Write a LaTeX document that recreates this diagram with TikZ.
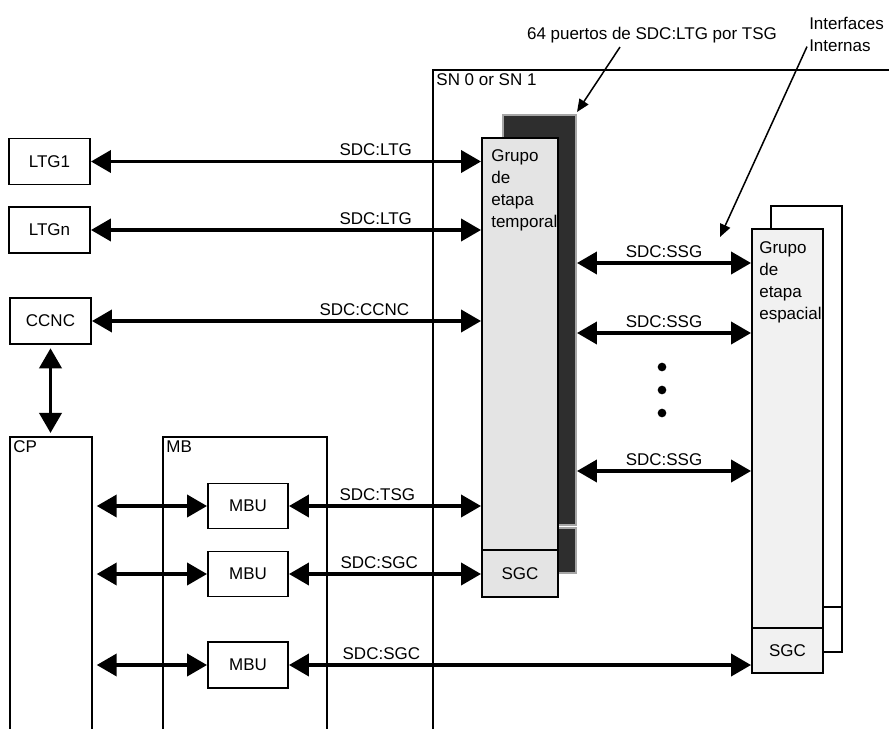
\documentclass[tikz,border=0pt]{standalone}
\usepackage{fontspec}
\setmainfont{Liberation Sans}
\usetikzlibrary{arrows.meta}
\definecolor{grisTSG}{HTML}{E4E4E4}
\definecolor{grisSSG}{HTML}{F1F1F1}
\definecolor{grisBarra}{HTML}{2E2E2E}

\begin{document}
\begin{tikzpicture}[x=0.3mm, y=-0.3mm,
  every node/.style={font=\fontsize{14.5}{19}\selectfont},
  caja/.style={draw,line width=1.6pt,inner sep=0pt,minimum width=24.3mm,minimum height=13.8mm},
  marco/.style={draw,line width=1.2pt,inner sep=0pt},
  grupo/.style={draw,line width=1.6pt,inner sep=0pt},
  etiq/.style={above},
  texto/.style={anchor=north west,align=left,inner sep=0pt},
  flecha/.style={{Triangle[length=6mm,width=6.6mm]}-{Triangle[length=6mm,width=6.6mm]},line width=3.2pt},
  nota/.style={-{Triangle[length=3.8mm,width=3.2mm]},line width=1.3pt}]
\useasboundingbox (0,0) rectangle (889,728);
\node[marco,minimum width=140.1mm,minimum height=201mm] (sn) at (666.5,405) {};
\node[anchor=north west] at (sn.north west) {SN 0 or SN 1};
\node[marco,minimum width=24.6mm,minimum height=90.9mm] (cp) at (51,588.5) {};
\node[anchor=north west] at (cp.north west) {CP};
\node[marco,minimum width=49.2mm,minimum height=90.9mm] (mb) at (245,588.5) {};
\node[anchor=north west] at (mb.north west) {MB};
\node[caja] (ltg1) at (49.5,161.5) {LTG1};
\node[caja] (ltgn) at (49.5,230) {LTGn};
\node[caja] (ccnc) at (50.5,321) {CCNC};
\node[caja,minimum width=24mm,minimum height=13.5mm] (mbu1) at (248,506) {MBU};
\node[caja,minimum width=24mm,minimum height=13.5mm] (mbu2) at (248,574) {MBU};
\node[caja,minimum width=24mm,minimum height=14mm] (mbu3) at (248,665) {MBU};
\node[grupo,draw=gray!70,fill=grisBarra,minimum width=21.9mm,minimum height=123mm] (barra) at (539.5,320) {};
\node[grupo,draw=gray!70,fill=grisBarra,minimum width=21.9mm,minimum height=13.5mm] (barra2) at (539.5,550.5) {};
\node[grupo,fill=grisTSG,minimum width=22.8mm,minimum height=123.6mm] (tsg) at (520,344) {};
\node[grupo,fill=grisTSG,minimum width=22.8mm,minimum height=14.1mm] (sgc1) at (520,573.5) {SGC};
\node[texto] at ([shift={(3mm,-3.6mm)}]tsg.north west) {Grupo\\de\\etapa\\temporal};
\node[grupo,fill=white,minimum width=21.3mm,minimum height=120.3mm] (ssgb) at (806.5,406.5) {};
\node[grupo,fill=white,minimum width=5.7mm,minimum height=13.5mm] (ssgb2) at (832.5,629.5) {};
\node[grupo,fill=grisSSG,minimum width=21.3mm,minimum height=119.7mm] (ssg) at (787.5,428.5) {};
\node[grupo,fill=grisSSG,minimum width=21.3mm,minimum height=13.5mm] (sgc2) at (787.5,650.5) {SGC};
\node[texto] at ([shift={(2.4mm,-3.9mm)}]ssg.north west) {Grupo\\de\\etapa\\espacial};
\node (puertos) at (652,35) {64 puertos de SDC:LTG por TSG};
\node[texto] (interfaz) at (809,17) {Interfaces\\Internas};
\coordinate (p1) at (577,112);
\coordinate (p2) at (720,237);
\foreach \n/\y in {1/263,2/333,3/471} \coordinate (s\n) at (660,\y);
\draw[flecha] (ltg1) -- (tsg.west |- ltg1) node[etiq,pos=0.73]{SDC:LTG};
\draw[flecha] (ltgn) -- (tsg.west |- ltgn) node[etiq,pos=0.73]{SDC:LTG};
\draw[flecha] (ccnc) -- (tsg.west |- ccnc) node[etiq,pos=0.70]{SDC:CCNC};
\draw[flecha,shorten <=1mm,shorten >=1mm] (ccnc) -- (ccnc |- cp.north);
\foreach \m in {mbu1,mbu2,mbu3} \draw[flecha,shorten <=1.2mm] (cp.east |- \m) -- (\m);
\draw[flecha] (mbu1) -- (tsg.west |- mbu1) node[etiq,pos=0.46]{SDC:TSG};
\draw[flecha] (mbu2) -- (sgc1.west |- mbu2) node[etiq,pos=0.47]{SDC:SGC};
\draw[flecha] (mbu3) -- (sgc2.west |- mbu3) node[etiq,pos=0.2]{SDC:SGC};
\foreach \n in {1,2,3} \draw[flecha] (barra.east |- s\n) -- (ssg.west |- s\n) node[etiq,midway]{SDC:SSG};
\foreach \y in {367,390,413} \fill (662,\y) circle[radius=1.3mm];
\draw[nota] ([xshift=-9.6mm]puertos.south) -- (p1);
\draw[nota] ([shift={(-2,12)}]interfaz.west) -- (p2);
\end{tikzpicture}
\end{document}
